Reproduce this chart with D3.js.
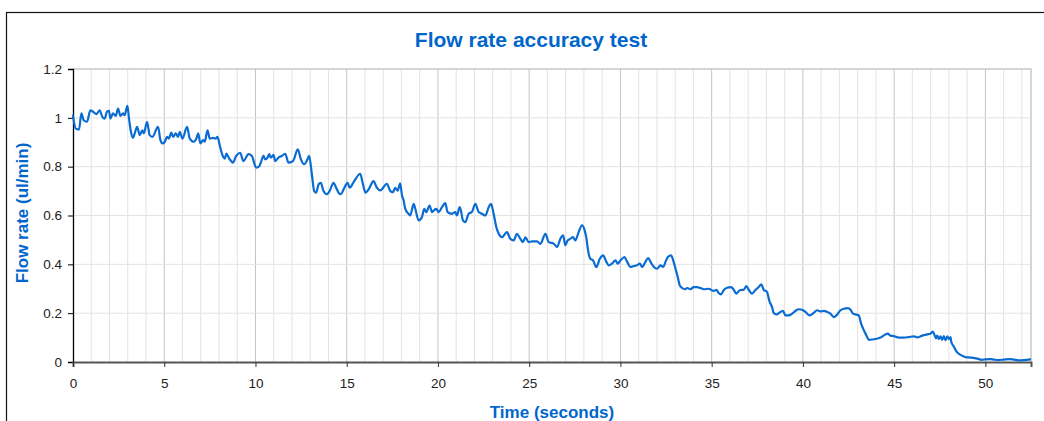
<!DOCTYPE html>
<html>
<head>
<meta charset="utf-8">
<script src="https://cdn.jsdelivr.net/npm/d3@7"></script>
<style>
  body { margin: 0; background: #fff; }
  text { font-family: "Liberation Sans", Arial, sans-serif; }
</style>
</head>
<body>
<div id="chart"></div>
<script>
// time (seconds) and flow rate (ul/min)
var timeSec = [
  0.00, 0.15, 0.33, 0.46, 0.59, 0.77, 0.95, 1.10, 1.28, 1.46, 1.61, 1.74, 1.86, 1.97, 2.05, 2.19, 2.34, 2.47, 2.60, 2.74, 2.83, 2.98,
  3.07, 3.16, 3.29, 3.38, 3.51, 3.66, 3.80, 3.88, 4.06, 4.20, 4.35, 4.66, 4.79, 4.90, 5.03, 5.16, 5.25, 5.39, 5.48, 5.63, 5.76, 5.85,
  6.00, 6.25, 6.40, 6.62, 6.76, 6.86, 6.98, 7.13, 7.22, 7.37, 7.50, 7.68, 7.81, 7.92, 8.04, 8.19, 8.32, 8.41, 8.56, 8.68, 8.76, 8.94,
  9.16, 9.34, 9.62, 9.80, 10.04, 10.22, 10.29, 10.44, 10.53, 10.66, 10.75, 10.84, 10.99, 11.08, 11.26, 11.44, 11.63, 11.81, 11.99, 12.08,
  12.32, 12.49, 12.67, 12.85, 12.94, 13.09, 13.22, 13.33, 13.46, 13.58, 13.73, 13.91, 14.06, 14.28, 14.42, 14.55, 14.68, 14.83, 15.05,
  15.16, 15.41, 15.74, 15.89, 16.03, 16.20, 16.47, 16.65, 16.84, 17.20, 17.39, 17.53, 17.66, 17.79, 17.93, 18.03, 18.12, 18.21, 18.39,
  18.48, 18.67, 18.76, 18.94, 19.12, 19.25, 19.36, 19.54, 19.67, 19.76, 19.91, 20.04, 20.22, 20.40, 20.53, 20.77, 20.95, 21.04, 21.19,
  21.26, 21.37, 21.50, 21.68, 21.86, 22.05, 22.23, 22.41, 22.60, 22.78, 22.91, 23.05, 23.20, 23.33, 23.51, 23.78, 23.97, 24.15, 24.33,
  24.52, 24.66, 24.79, 24.97, 25.16, 25.43, 25.61, 25.89, 26.07, 26.34, 26.53, 26.71, 26.86, 26.98, 27.11, 27.26, 27.40, 27.53, 27.71,
  27.90, 28.04, 28.14, 28.21, 28.35, 28.50, 28.68, 28.87, 29.05, 29.23, 29.36, 29.54, 29.73, 29.85, 30.00, 30.22, 30.37, 30.55, 30.73,
  30.91, 31.06, 31.19, 31.37, 31.52, 31.65, 31.83, 32.01, 32.19, 32.34, 32.47, 32.60, 32.78, 32.89, 33.02, 33.14, 33.25, 33.38, 33.53,
  33.66, 33.84, 34.02, 34.20, 34.39, 34.57, 34.84, 35.11, 35.26, 35.38, 35.51, 35.66, 35.84, 36.06, 36.21, 36.35, 36.54, 36.76, 36.90,
  37.03, 37.21, 37.39, 37.58, 37.72, 37.85, 38.03, 38.18, 38.31, 38.40, 38.55, 38.77, 38.91, 39.04, 39.22, 39.41, 39.59, 39.77, 39.95,
  40.14, 40.37, 40.59, 40.78, 40.96, 41.14, 41.33, 41.51, 41.69, 41.84, 42.06, 42.24, 42.46, 42.61, 42.75, 42.93, 43.06, 43.19, 43.34,
  43.48, 43.61, 43.98, 44.25, 44.52, 44.65, 44.80, 44.98, 45.26, 45.53, 45.80, 46.08, 46.26, 46.54, 46.81, 46.99, 47.12, 47.21, 47.30,
  47.36, 47.45, 47.54, 47.63, 47.72, 47.82, 47.91, 48.00, 48.09, 48.13, 48.27, 48.42, 48.64, 48.91, 49.19, 49.55, 49.80, 50.01, 50.25,
  50.47, 50.70, 51.01, 51.30, 51.56, 51.80, 52.11, 52.45
];
var flowRate = [
  1.008, 0.956, 0.952, 1.018, 0.990, 0.984, 1.031, 1.025, 1.015, 1.031, 1.004, 0.997, 1.025, 1.029, 0.997, 1.018, 1.008, 1.038, 1.008, 1.018, 1.011, 1.049,
  0.997, 0.949, 0.918, 0.936, 0.963, 0.929, 0.949, 0.936, 0.984, 0.929, 0.922, 0.963, 0.909, 0.895, 0.902, 0.922, 0.915, 0.940, 0.922, 0.936, 0.922, 0.943,
  0.915, 0.963, 0.915, 0.902, 0.915, 0.936, 0.895, 0.909, 0.902, 0.949, 0.915, 0.918, 0.915, 0.922, 0.888, 0.847, 0.833, 0.854, 0.833, 0.822, 0.816, 0.844,
  0.857, 0.823, 0.851, 0.844, 0.796, 0.803, 0.816, 0.844, 0.830, 0.837, 0.851, 0.837, 0.848, 0.823, 0.837, 0.844, 0.853, 0.816, 0.820, 0.826,
  0.871, 0.830, 0.810, 0.830, 0.844, 0.769, 0.700, 0.694, 0.728, 0.734, 0.700, 0.687, 0.700, 0.734, 0.714, 0.694, 0.687, 0.707, 0.734,
  0.714, 0.741, 0.771, 0.728, 0.694, 0.707, 0.741, 0.714, 0.703, 0.730, 0.700, 0.696, 0.713, 0.702, 0.732, 0.682, 0.661, 0.627, 0.607,
  0.600, 0.648, 0.627, 0.580, 0.593, 0.627, 0.614, 0.641, 0.614, 0.620, 0.627, 0.614, 0.634, 0.651, 0.614, 0.607, 0.614, 0.600, 0.634,
  0.620, 0.580, 0.573, 0.607, 0.614, 0.648, 0.614, 0.607, 0.600, 0.634, 0.648, 0.607, 0.552, 0.525, 0.511, 0.532, 0.504, 0.498, 0.525,
  0.504, 0.491, 0.511, 0.491, 0.494, 0.494, 0.484, 0.525, 0.491, 0.485, 0.471, 0.505, 0.519, 0.478, 0.498, 0.505, 0.512, 0.498, 0.532,
  0.560, 0.539, 0.505, 0.464, 0.423, 0.416, 0.389, 0.423, 0.437, 0.410, 0.396, 0.403, 0.416, 0.403, 0.416, 0.430, 0.410, 0.389, 0.393,
  0.396, 0.403, 0.389, 0.410, 0.426, 0.410, 0.389, 0.382, 0.396, 0.389, 0.410, 0.430, 0.437, 0.416, 0.382, 0.348, 0.314, 0.303, 0.298,
  0.303, 0.298, 0.307, 0.307, 0.303, 0.298, 0.300, 0.291, 0.296, 0.283, 0.277, 0.294, 0.304, 0.307, 0.296, 0.280, 0.294, 0.296, 0.311,
  0.296, 0.280, 0.294, 0.307, 0.318, 0.296, 0.287, 0.246, 0.225, 0.201, 0.195, 0.205, 0.209, 0.191, 0.191, 0.198, 0.209, 0.216, 0.214,
  0.205, 0.191, 0.201, 0.212, 0.207, 0.209, 0.205, 0.198, 0.184, 0.191, 0.212, 0.218, 0.221, 0.214, 0.198, 0.194, 0.191, 0.157, 0.130,
  0.109, 0.091, 0.094, 0.100, 0.113, 0.116, 0.108, 0.106, 0.100, 0.100, 0.102, 0.105, 0.101, 0.108, 0.113, 0.116, 0.124, 0.111, 0.097,
  0.108, 0.094, 0.105, 0.091, 0.106, 0.090, 0.105, 0.094, 0.102, 0.083, 0.063, 0.042, 0.029, 0.020, 0.018, 0.014, 0.009, 0.011, 0.012,
  0.010, 0.008, 0.010, 0.012, 0.010, 0.007, 0.008, 0.011
];

var xTicks = [0, 5, 10, 15, 20, 25, 30, 35, 40, 45, 50];
var yTicks = [0, 0.2, 0.4, 0.6, 0.8, 1, 1.2];
var yTickLabels = ["0", "0.2", "0.4", "0.6", "0.8", "1", "1.2"];
var chartTitle = "Flow rate accuracy test";
var xTitle = "Time (seconds)";
var yTitle = "Flow rate (ul/min)";

var width = 1044, height = 421;
var margin = {left: 73, top: 69, right: 1031, bottom: 362};
var blue = "#0066cc";

var data = timeSec.map(function(t, i) { return {t: t, v: flowRate[i]}; });

var x = d3.scaleLinear().domain([0, 52.5]).range([margin.left, margin.right]);
var y = d3.scaleLinear().domain([0, 1.2]).range([margin.bottom, margin.top]);

var svg = d3.select('#chart').append('svg').attr('width', width).attr('height', height);
svg.append('rect').attr('width', width).attr('height', height).attr('fill', '#fff');

// outer chart frame (runs off the bottom/right of the picture)
svg.append('rect').attr('x', 6.5).attr('y', 12.5).attr('width', 1080).attr('height', 440)
  .attr('fill', 'none').attr('stroke', '#111').attr('stroke-width', 1.2);

svg.append('text').attr('x', 531).attr('y', 47).attr('text-anchor', 'middle')
  .attr('font-size', 21).attr('font-weight', 'bold').attr('fill', blue).text(chartTitle);

// gridlines
var minor = d3.range(1, 53).filter(function(d) { return d % 5 != 0; });
svg.append('g').selectAll('line').data(minor).join('line')
  .attr('x1', d => x(d)).attr('x2', d => x(d)).attr('y1', margin.top).attr('y2', margin.bottom)
  .attr('stroke', '#e3e3e3').attr('stroke-width', 1);
svg.append('g').selectAll('line').data(xTicks.slice(1)).join('line')
  .attr('x1', d => x(d)).attr('x2', d => x(d)).attr('y1', margin.top).attr('y2', margin.bottom)
  .attr('stroke', '#c4c4c4').attr('stroke-width', 1);
svg.append('g').selectAll('line').data(yTicks.slice(1, -1)).join('line')
  .attr('x1', margin.left).attr('x2', margin.right).attr('y1', d => y(d)).attr('y2', d => y(d))
  .attr('stroke', '#e3e3e3').attr('stroke-width', 1);

// top and right plot border
svg.append('path')
  .attr('d', 'M' + margin.left + ',' + margin.top + 'H' + margin.right + 'V' + margin.bottom)
  .attr('fill', 'none').attr('stroke', '#c8c8c8').attr('stroke-width', 1.5);

// axes
var yAxis = svg.append('g').attr('transform', 'translate(' + margin.left + ',0)')
  .call(d3.axisLeft(y).tickValues(yTicks).tickSize(5).tickPadding(6)
    .tickFormat(function(d, i) { return yTickLabels[i]; }));
yAxis.select('.domain').attr('stroke', '#000').attr('stroke-width', 1.3);
yAxis.selectAll('text').attr('font-size', 13.5).attr('fill', '#222')
  .style('font-family', '"Liberation Sans", Arial, sans-serif');

var xAxis = svg.append('g').attr('transform', 'translate(0,' + margin.bottom + ')')
  .call(d3.axisBottom(x).tickValues(xTicks).tickSize(5).tickPadding(11));
xAxis.select('.domain').attr('stroke', '#555').attr('stroke-width', 2);
xAxis.selectAll('.tick line').attr('stroke', '#333');
xAxis.selectAll('text').attr('font-size', 13.5).attr('fill', '#222')
  .style('font-family', '"Liberation Sans", Arial, sans-serif');

// axis titles
svg.append('text').attr('x', (margin.left + margin.right) / 2).attr('y', 418).attr('text-anchor', 'middle')
  .attr('font-size', 17).attr('font-weight', 'bold').attr('fill', blue).text(xTitle);
svg.append('text').attr('transform', 'translate(28,213) rotate(-90)').attr('text-anchor', 'middle')
  .attr('font-size', 17).attr('font-weight', 'bold').attr('fill', blue).text(yTitle);

// the trace, smoothed like the original plot
var line = d3.line().curve(d3.curveMonotoneX).x(d => x(d.t)).y(d => y(d.v));
svg.append('path').datum(data).attr('d', line)
  .attr('fill', 'none').attr('stroke', '#0a6cd2').attr('stroke-width', 2.2)
  .attr('stroke-linejoin', 'round').attr('stroke-linecap', 'round');
</script>
</body>
</html>
